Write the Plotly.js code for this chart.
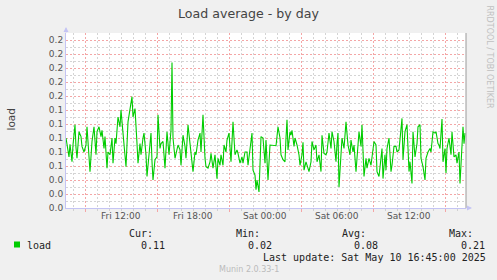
<!DOCTYPE html>
<html>
<head>
<meta charset="utf-8">
<script src="https://cdn.plot.ly/plotly-3.0.1.min.js"></script>
<style>
html,body{margin:0;padding:0;background:#F0F0F0;}
#chart{width:497px;height:280px;}
</style>
</head>
<body>
<div id="chart"></div>
<script>
// ---- data ----
// sample number in 5-minute steps after Fri 2025-05-09 07:25
const step5 = [0,1,3,4,5,6,7,9,10,11,13,15,16,18,20,21,24,26,28,30,31,33,35,36,38,39,41,42,44,46,47,49,50,52,54,55,57,59,60,62,64,66,67,69,71,72,74,75,77,78,80,81,83,85,86,87,89,91,92,94,95,97,99,100,101,103,105,106,107,109,110,112,114,115,117,119,120,122,124,125,127,129,130,132,134,135,137,139,140,142,144,145,147,149,151,152,154,155,157,158,160,161,163,165,166,167,169,171,172,174,176,177,179,181,182,184,186,187,189,190,191,193,194,195,197,199,200,202,204,206,210,211,212,214,215,217,219,220,221,222,224,225,226,228,229,231,233,234,236,237,238,240,243,245,246,248,250,251,253,255,256,258,260,261,263,265,266,268,270,271,272,273,275,276,278,279,280,282,284,285,287,288,290,292,293,295,296,298,300,301,303,305,306,308,310,311,313,315,316,317,319,320,321,323,325,326,328,330,331,333,335,336,337,339,341,343,344,346,347,349,351,352,354,355,357,359,360,362,364,365,367,369,370,372,373,374,376,377,379,380,381,383,385,386,388,390,391,393,394,395,397,398,399];
const load = [0.100,0.092,0.073,0.091,0.071,0.066,0.090,0.119,0.086,0.071,0.109,0.102,0.088,0.080,0.090,0.116,0.052,0.095,0.116,0.076,0.109,0.116,0.102,0.111,0.085,0.102,0.057,0.080,0.076,0.100,0.064,0.100,0.092,0.130,0.116,0.140,0.107,0.076,0.059,0.123,0.142,0.159,0.130,0.142,0.092,0.064,0.092,0.076,0.100,0.107,0.076,0.045,0.076,0.107,0.066,0.040,0.069,0.073,0.133,0.085,0.092,0.095,0.057,0.090,0.109,0.076,0.111,0.208,0.100,0.071,0.078,0.090,0.083,0.061,0.104,0.088,0.071,0.119,0.092,0.080,0.052,0.080,0.076,0.097,0.107,0.080,0.133,0.071,0.059,0.057,0.066,0.078,0.057,0.076,0.042,0.071,0.061,0.076,0.061,0.090,0.080,0.097,0.107,0.066,0.109,0.123,0.076,0.083,0.078,0.064,0.073,0.064,0.080,0.080,0.061,0.083,0.107,0.054,0.047,0.026,0.040,0.023,0.052,0.102,0.100,0.064,0.097,0.040,0.090,0.090,0.089,0.102,0.116,0.100,0.076,0.069,0.066,0.100,0.126,0.083,0.109,0.104,0.111,0.088,0.100,0.090,0.076,0.061,0.076,0.094,0.054,0.066,0.052,0.066,0.095,0.083,0.090,0.066,0.076,0.052,0.104,0.078,0.076,0.080,0.107,0.085,0.109,0.095,0.066,0.092,0.107,0.030,0.092,0.100,0.085,0.109,0.123,0.090,0.076,0.097,0.080,0.090,0.052,0.090,0.109,0.088,0.119,0.045,0.071,0.057,0.071,0.061,0.071,0.095,0.090,0.052,0.045,0.073,0.085,0.042,0.076,0.054,0.085,0.100,0.052,0.061,0.088,0.088,0.080,0.083,0.109,0.128,0.069,0.109,0.119,0.052,0.066,0.035,0.109,0.073,0.092,0.116,0.119,0.071,0.059,0.040,0.071,0.080,0.085,0.080,0.109,0.107,0.109,0.092,0.090,0.085,0.127,0.066,0.085,0.050,0.085,0.100,0.076,0.109,0.073,0.076,0.064,0.080,0.035,0.061,0.116,0.092,0.107,0.111];

const rangeStart = '2025-05-09 07:25';
const rangeEnd   = '2025-05-10 16:45';
const labelTimes = ['2025-05-09 12:00','2025-05-09 18:00','2025-05-10 00:00','2025-05-10 06:00','2025-05-10 12:00'];
const labelText  = ['Fri 12:00','Fri 18:00','Sat 00:00','Sat 06:00','Sat 12:00'];
const majorGridTimes = ['2025-05-09 09:00','2025-05-09 15:00','2025-05-09 21:00','2025-05-10 03:00','2025-05-10 09:00','2025-05-10 15:00'];

const seriesName = 'load';
const statHeads = ['Cur:','Min:','Avg:','Max:'];
const statVals  = ['0.11','0.02','0.08','0.21'];
const lastUpdate = 'Last update: Sat May 10 16:45:00 2025';

// ---- build ----
const T0 = Date.UTC(2025,4,9,7,25);
const times = step5.map(s => new Date(T0 + s*300000).toISOString().slice(0,16).replace('T',' '));

// plot area pixel frame
const L = 66, R = 466, T = 33, B = 208;
const px = v => (v - L) / (R - L);
const py = v => (B - v) / (B - T);

const RED = '#F4A6A6', GRAY = '#D4D4D4', AX = '#C4C4F4';
const DASH = '2px,2px';
const mono = 'DejaVu Sans Mono', sans = 'DejaVu Sans';

function txt(text, x, y, o) {
  o = o || {};
  return Object.assign({
    text: text, xref: 'paper', yref: 'paper', x: px(x), y: py(y),
    xanchor: 'left', yanchor: 'middle', showarrow: false, borderpad: 0,
    font: {family: mono, size: 10, color: '#222'}
  }, o);
}

const annotations = [
  txt(seriesName, 26, 245),
  txt(statHeads[0], 127.5, 233.5), txt(statVals[0], 139.5, 245),
  txt(statHeads[1], 234.5, 233.5), txt(statVals[1], 246.5, 245),
  txt(statHeads[2], 340.5, 233.5), txt(statVals[2], 352.5, 245),
  txt(statHeads[3], 447.5, 233.5), txt(statVals[3], 459.5, 245),
  txt(lastUpdate, 261.5, 257.5),
  txt('Munin 2.0.33-1', 248.5, 269.5, {xanchor: 'center', font: {family: sans, size: 8, color: '#BBBBBB'}}),
  txt('load', 10, 119.5, {xanchor: 'center', textangle: -90, font: {family: sans, size: 10.5, color: '#444'}}),
  txt('RRDTOOL / TOBI OETIKER', 489, 56.5, {xanchor: 'center', textangle: 90, font: {family: sans, size: 8, color: '#C0C0C0'}}),
  // axis arrows
  {xref: 'paper', yref: 'paper', x: px(L), y: py(27), ax: 0, ay: 7, showarrow: true, arrowhead: 2, arrowsize: 1, arrowwidth: 1, arrowcolor: AX, text: ''},
  {xref: 'paper', yref: 'paper', x: px(472), y: py(B), ax: -7, ay: 0, showarrow: true, arrowhead: 2, arrowsize: 1, arrowwidth: 1, arrowcolor: AX, text: ''}
];
// time-axis labels, placed on the x axis' own date scale
labelTimes.forEach((t, i) => annotations.push({
  text: labelText[i], xref: 'x', yref: 'paper', x: t, y: py(216.5),
  xanchor: 'center', yanchor: 'middle', showarrow: false, borderpad: 0,
  font: {family: sans, size: 9, color: '#555'}
}));

const shapes = [
  {type: 'rect', xref: 'paper', yref: 'paper', x0: px(14), x1: px(20), y0: py(247.5), y1: py(241.5), fillcolor: '#00CC00', line: {width: 0}},
  {type: 'line', xref: 'paper', yref: 'paper', x0: 1, x1: 1, y0: 0, y1: 1, line: {color: '#9A9A9A', width: 1}}
];

const trace = {
  x: times, y: load, type: 'scatter', mode: 'lines', name: seriesName,
  line: {color: '#00CC00', width: 1.1}, hoverinfo: 'skip'
};

const layout = {
  width: 497, height: 280,
  margin: {l: L, r: 497 - R, t: T, b: 280 - B, pad: 0},
  paper_bgcolor: '#F0F0F0', plot_bgcolor: '#FFFFFF',
  showlegend: false,
  title: {text: 'Load average - by day', x: 0.5, xref: 'container', xanchor: 'center',
          y: 1 - 13.3/280, yref: 'container', yanchor: 'middle',
          font: {family: sans, size: 12.6, color: '#444'}},
  xaxis: {
    type: 'date', range: [rangeStart, rangeEnd], fixedrange: true,
    tickmode: 'array', tickvals: majorGridTimes, showticklabels: false,
    showgrid: true, gridcolor: RED, gridwidth: 1, griddash: DASH,
    ticks: 'outside', ticklen: 3, tickcolor: RED, tickwidth: 1,
    showline: true, linecolor: AX, linewidth: 1, zeroline: false,
    minor: {tickmode: 'linear', tick0: '2025-05-09 00:00', dtick: 3600000,
            showgrid: true, gridcolor: GRAY, gridwidth: 1, griddash: DASH,
            ticks: 'outside', ticklen: 2, tickcolor: '#D0D0D0'}
  },
  yaxis: {
    range: [0, 0.25], fixedrange: true,
    tickmode: 'linear', tick0: 0, dtick: 0.02, tickformat: '.1f',
    showgrid: true, gridcolor: RED, gridwidth: 1, griddash: DASH,
    ticks: '', showline: true, linecolor: AX, linewidth: 1, zeroline: false,
    tickfont: {family: sans, size: 9, color: '#555'},
    minor: {dtick: 0.01, showgrid: true, gridcolor: GRAY, gridwidth: 1, griddash: DASH}
  },
  annotations: annotations,
  shapes: shapes
};

Plotly.newPlot('chart', [trace], layout, {displayModeBar: false, staticPlot: true});
</script>
</body>
</html>
